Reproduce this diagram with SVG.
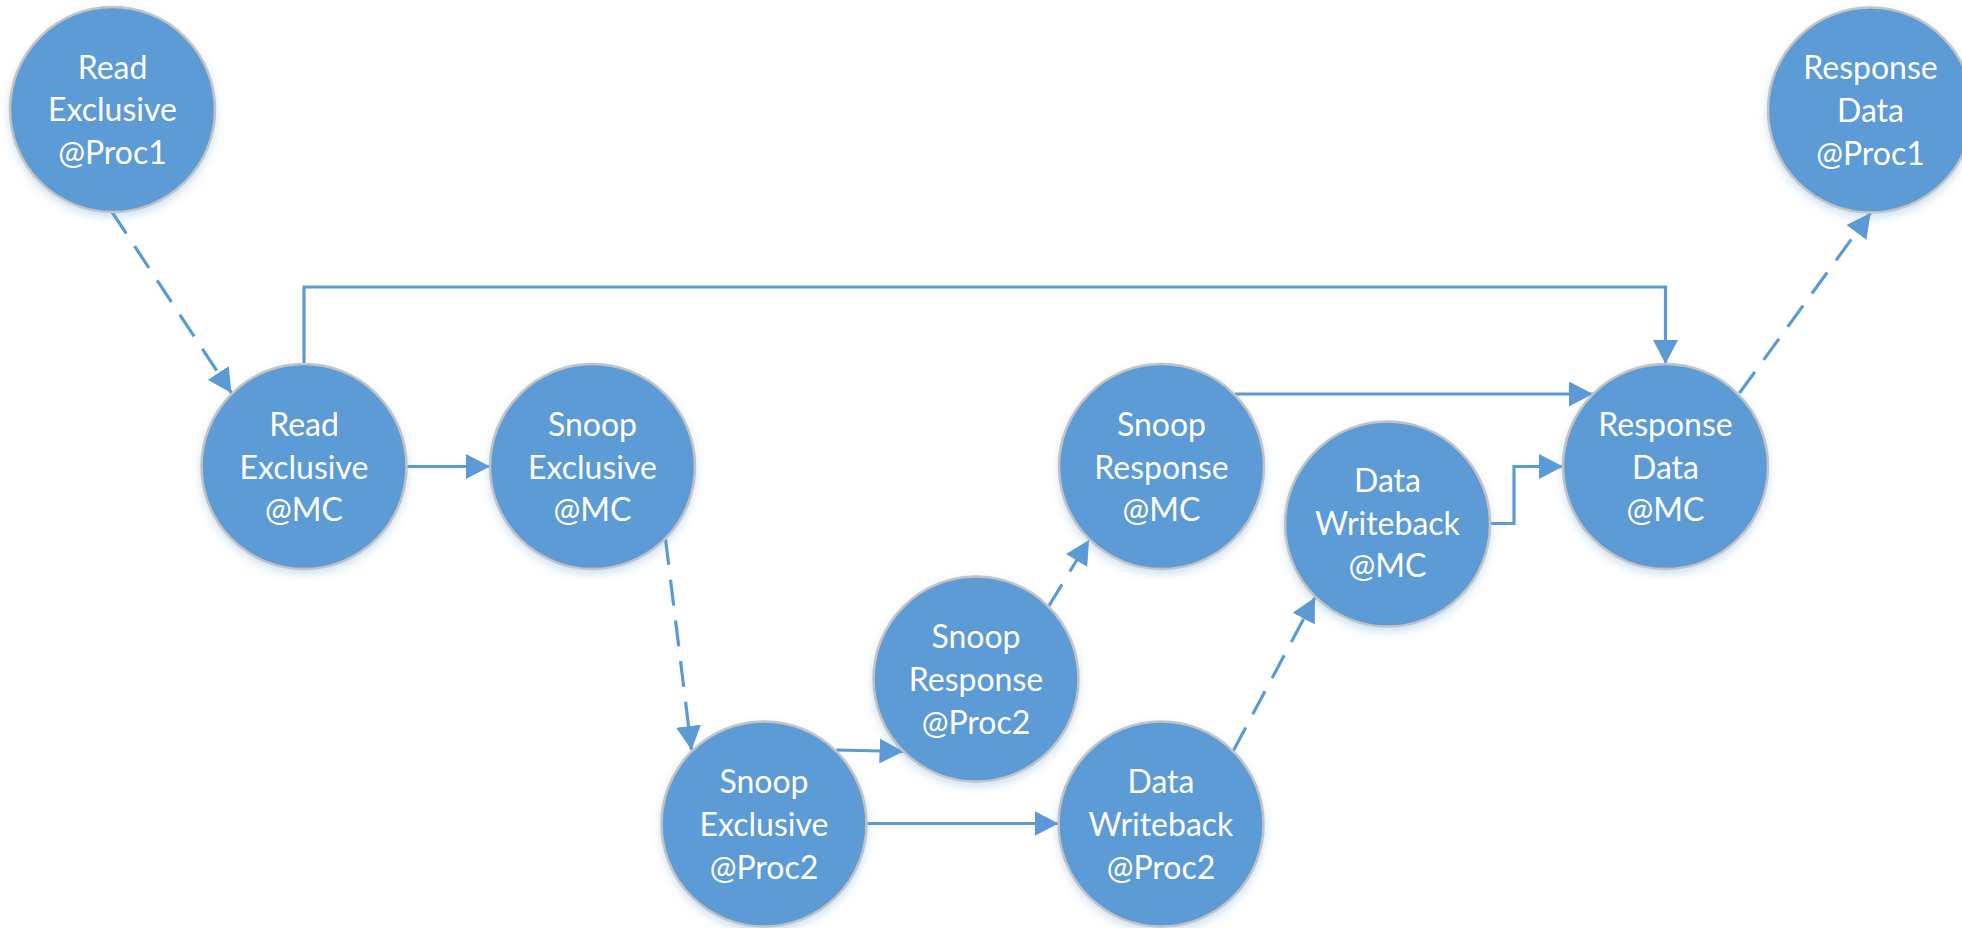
<svg xmlns="http://www.w3.org/2000/svg" width="1962" height="928" viewBox="0 0 1962 928">
<defs>
<style>
.node circle{fill:#5B9BD5;stroke:#C3C3C3;stroke-width:2.5;filter:url(#sh)}
.node text{fill:#FFFFFF;font-family:Lato,"Noto Sans","Liberation Sans",sans-serif;font-size:32px;text-anchor:middle}
.c{fill:none;stroke:#5B9BD5;stroke-width:3.2;marker-end:url(#ah)}
.d{stroke-dasharray:26 15}
</style>
<filter id="sh" x="-20%" y="-20%" width="140%" height="150%">
<feDropShadow dx="0" dy="4" stdDeviation="4" flood-color="#5B9BD5" flood-opacity="0.3"/>
</filter>
<marker id="ah" markerUnits="userSpaceOnUse" markerWidth="24" markerHeight="25" refX="24" refY="12.5" orient="auto" viewBox="0 0 24 25">
<path d="M0,0 L24,12.5 L0,25 Z" fill="#5B9BD5"/>
</marker>
</defs>
<g id="connectors">
<path class="c d" d="M112,212 L231.5,393"/>
<path class="c" d="M406.5,466.5 L490,466.5"/>
<path class="c" d="M304,364 V287 H1665.5 V364"/>
<path class="c d" d="M665.5,539 L691.5,750"/>
<path class="c" d="M836.5,750 L903.5,751.5"/>
<path class="c" d="M866.5,823.5 L1058.5,823.5"/>
<path class="c d" d="M1048.5,606.5 L1089,540"/>
<path class="c d" d="M1233.5,750.5 L1315,597.5"/>
<path class="c" d="M1235,394 L1593,394"/>
<path class="c" d="M1490,523.5 H1514 V466.5 H1563"/>
<path class="c d" d="M1739.5,393 L1870.5,213"/>
</g>
<g id="n1" class="node"><circle cx="112.5" cy="109.5" r="102.5"/><text><tspan x="112.5" y="78.5">Read</tspan><tspan x="112.5" y="121">Exclusive</tspan><tspan x="112.5" y="164">@Proc1</tspan></text></g>
<g id="n2" class="node"><circle cx="1870.5" cy="110" r="102.5"/><text><tspan x="1870.5" y="79">Response</tspan><tspan x="1870.5" y="122">Data</tspan><tspan x="1870.5" y="165">@Proc1</tspan></text></g>
<g id="n3" class="node"><circle cx="304" cy="466.5" r="102.5"/><text><tspan x="304" y="435.5">Read</tspan><tspan x="304" y="478.5">Exclusive</tspan><tspan x="304" y="521">@MC</tspan></text></g>
<g id="n4" class="node"><circle cx="592.5" cy="466.5" r="102.5"/><text><tspan x="592.5" y="435.5">Snoop</tspan><tspan x="592.5" y="478.5">Exclusive</tspan><tspan x="592.5" y="521">@MC</tspan></text></g>
<g id="n5" class="node"><circle cx="1161.5" cy="466.5" r="102.5"/><text><tspan x="1161.5" y="435.5">Snoop</tspan><tspan x="1161.5" y="478.5">Response</tspan><tspan x="1161.5" y="521">@MC</tspan></text></g>
<g id="n6" class="node"><circle cx="1387.5" cy="524" r="102.5"/><text><tspan x="1387.5" y="492">Data</tspan><tspan x="1387.5" y="535">Writeback</tspan><tspan x="1387.5" y="577">@MC</tspan></text></g>
<g id="n7" class="node"><circle cx="1665.5" cy="466.5" r="102.5"/><text><tspan x="1665.5" y="435.5">Response</tspan><tspan x="1665.5" y="478.5">Data</tspan><tspan x="1665.5" y="521">@MC</tspan></text></g>
<g id="n8" class="node"><circle cx="976" cy="679" r="102.5"/><text><tspan x="976" y="648">Snoop</tspan><tspan x="976" y="691">Response</tspan><tspan x="976" y="733.5">@Proc2</tspan></text></g>
<g id="n9" class="node"><circle cx="764" cy="824" r="102.5"/><text><tspan x="764" y="793">Snoop</tspan><tspan x="764" y="836">Exclusive</tspan><tspan x="764" y="878.5">@Proc2</tspan></text></g>
<g id="n10" class="node"><circle cx="1161" cy="824" r="102.5"/><text><tspan x="1161" y="793">Data</tspan><tspan x="1161" y="836">Writeback</tspan><tspan x="1161" y="878.5">@Proc2</tspan></text></g>
</svg>
